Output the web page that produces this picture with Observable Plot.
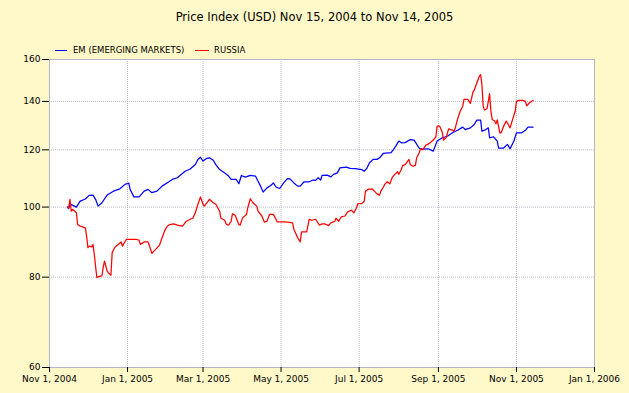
<!DOCTYPE html>
<html>
<head>
<meta charset="utf-8">
<script src="https://cdn.jsdelivr.net/npm/d3@7"></script>
<script src="https://cdn.jsdelivr.net/npm/@observablehq/plot@0.6"></script>
<style>
  html, body { margin: 0; padding: 0; background: #fff8c8; }
  #wrap { width: 629px; height: 393px; position: relative; font-family: "DejaVu Sans", Verdana, sans-serif; color: #000; }
  #head { position: relative; height: 54px; }
  #title { position: absolute; left: 0; top: 9px; width: 629px; text-align: center; font-size: 11.5px; line-height: 16px; }
  .sw { position: absolute; height: 1.5px; top: 49.5px; }
  .lt { position: absolute; top: 44px; font-size: 8.5px; line-height: 12px; white-space: nowrap; }
</style>
</head>
<body>
<div id="wrap">
  <div id="head">
    <div id="title">Price Index (USD) Nov 15, 2004 to Nov 14, 2005</div>
  </div>
  <div id="chart"></div>
</div>
<script>
// ---- data ----
const seriesNames = ["EM (EMERGING MARKETS)", "RUSSIA"];
const seriesColors = ["#0000ff", "#ff0000"];

const emDates = ["2004-11-15","2004-11-16","2004-11-17","2004-11-18","2004-11-22","2004-11-25","2004-11-29","2004-12-02","2004-12-05","2004-12-07","2004-12-09","2004-12-12","2004-12-16","2004-12-21","2004-12-26","2004-12-30","2005-01-02","2005-01-03","2005-01-06","2005-01-10","2005-01-14","2005-01-17","2005-01-20","2005-01-24","2005-01-28","2005-02-02","2005-02-05","2005-02-09","2005-02-11","2005-02-15","2005-02-19","2005-02-23","2005-02-25","2005-02-27","2005-03-01","2005-03-04","2005-03-06","2005-03-09","2005-03-11","2005-03-14","2005-03-18","2005-03-21","2005-03-23","2005-03-27","2005-03-29","2005-03-31","2005-04-03","2005-04-07","2005-04-11","2005-04-13","2005-04-15","2005-04-17","2005-04-20","2005-04-23","2005-04-25","2005-04-27","2005-04-30","2005-05-03","2005-05-06","2005-05-08","2005-05-11","2005-05-14","2005-05-16","2005-05-19","2005-05-23","2005-05-26","2005-05-28","2005-05-30","2005-06-01","2005-06-02","2005-06-06","2005-06-09","2005-06-11","2005-06-14","2005-06-16","2005-06-21","2005-06-24","2005-06-28","2005-07-03","2005-07-05","2005-07-07","2005-07-09","2005-07-12","2005-07-15","2005-07-17","2005-07-20","2005-07-26","2005-07-28","2005-07-30","2005-08-01","2005-08-03","2005-08-06","2005-08-10","2005-08-13","2005-08-17","2005-08-20","2005-08-24","2005-08-28","2005-08-31","2005-09-04","2005-09-08","2005-09-12","2005-09-16","2005-09-20","2005-09-22","2005-09-26","2005-09-29","2005-10-01","2005-10-04","2005-10-05","2005-10-08","2005-10-10","2005-10-11","2005-10-14","2005-10-17","2005-10-18","2005-10-22","2005-10-25","2005-10-27","2005-10-30","2005-11-01","2005-11-05","2005-11-08","2005-11-10","2005-11-14"];
const emValues = [100.0,99.5,101.1,100.8,100.0,101.9,102.6,103.8,103.9,102.5,100.3,101.4,103.9,105.2,106.0,107.5,107.9,105.8,103.3,103.3,105.2,105.8,104.7,105.2,106.9,108.3,109.2,109.8,110.6,112.1,112.9,114.5,116.4,117.2,115.8,116.8,117.0,116.1,114.5,112.7,111.5,110.4,109.2,109.2,107.7,110.6,110.0,110.6,110.4,108.6,106.9,104.9,106.3,107.1,108.0,106.6,106.1,108.0,109.5,109.4,108.0,106.9,106.9,108.4,108.4,109.0,108.9,109.8,109.0,110.6,110.7,110.1,111.0,111.5,113.3,113.6,113.1,113.0,112.7,112.1,113.1,115.1,116.4,116.4,117.0,118.7,118.9,120.2,121.7,123.4,122.7,122.8,124.0,123.8,120.6,120.3,120.4,119.5,123.4,124.7,125.3,126.7,127.7,129.0,128.0,128.7,130.1,131.9,131.9,127.3,128.0,128.7,124.7,125.1,123.4,120.7,120.7,122.1,120.4,123.4,126.7,126.7,127.7,129.0,129.0];

const ruDates = ["2004-11-15","2004-11-16","2004-11-17","2004-11-18","2004-11-19","2004-11-22","2004-11-23","2004-11-25","2004-11-29","2004-11-30","2004-12-01","2004-12-02","2004-12-04","2004-12-05","2004-12-06","2004-12-08","2004-12-10","2004-12-12","2004-12-13","2004-12-14","2004-12-16","2004-12-17","2004-12-19","2004-12-20","2004-12-22","2004-12-23","2004-12-27","2004-12-28","2004-12-31","2005-01-08","2005-01-10","2005-01-11","2005-01-14","2005-01-17","2005-01-18","2005-01-20","2005-01-23","2005-01-26","2005-01-28","2005-01-30","2005-02-01","2005-02-03","2005-02-06","2005-02-09","2005-02-13","2005-02-16","2005-02-19","2005-02-21","2005-02-23","2005-02-25","2005-02-27","2005-03-01","2005-03-02","2005-03-05","2005-03-06","2005-03-09","2005-03-11","2005-03-14","2005-03-15","2005-03-18","2005-03-19","2005-03-21","2005-03-23","2005-03-24","2005-03-26","2005-03-29","2005-03-30","2005-04-01","2005-04-04","2005-04-05","2005-04-07","2005-04-09","2005-04-12","2005-04-13","2005-04-16","2005-04-18","2005-04-20","2005-04-22","2005-04-25","2005-04-27","2005-04-28","2005-05-03","2005-05-06","2005-05-10","2005-05-11","2005-05-14","2005-05-16","2005-05-17","2005-05-21","2005-05-23","2005-05-25","2005-05-28","2005-05-29","2005-05-31","2005-06-02","2005-06-04","2005-06-07","2005-06-09","2005-06-12","2005-06-13","2005-06-15","2005-06-17","2005-06-20","2005-06-22","2005-06-25","2005-06-27","2005-06-29","2005-06-30","2005-07-03","2005-07-05","2005-07-06","2005-07-08","2005-07-11","2005-07-13","2005-07-15","2005-07-17","2005-07-18","2005-07-20","2005-07-21","2005-07-23","2005-07-25","2005-07-27","2005-07-29","2005-07-31","2005-08-01","2005-08-03","2005-08-04","2005-08-06","2005-08-07","2005-08-09","2005-08-10","2005-08-12","2005-08-14","2005-08-15","2005-08-17","2005-08-18","2005-08-20","2005-08-22","2005-08-25","2005-08-28","2005-08-30","2005-08-31","2005-09-02","2005-09-04","2005-09-05","2005-09-07","2005-09-09","2005-09-12","2005-09-13","2005-09-14","2005-09-16","2005-09-18","2005-09-20","2005-09-21","2005-09-24","2005-09-26","2005-09-28","2005-09-29","2005-10-01","2005-10-03","2005-10-04","2005-10-05","2005-10-06","2005-10-07","2005-10-09","2005-10-10","2005-10-11","2005-10-12","2005-10-13","2005-10-15","2005-10-16","2005-10-17","2005-10-19","2005-10-20","2005-10-22","2005-10-24","2005-10-25","2005-10-27","2005-10-29","2005-10-31","2005-11-01","2005-11-03","2005-11-06","2005-11-08","2005-11-09","2005-11-11","2005-11-14"];
const ruValues = [100.0,99.7,102.5,98.7,99.3,98.2,94.6,94.1,93.6,91.2,87.9,88.3,88.1,88.8,86.0,79.9,80.2,80.3,82.6,84.2,81.6,81.1,80.5,86.5,87.9,88.3,89.5,88.3,90.2,90.2,90.0,88.8,89.5,89.5,88.6,86.3,87.4,88.6,90.7,92.7,94.1,94.6,94.8,94.4,94.1,95.6,96.2,96.5,98.2,100.9,103.3,100.9,100.3,101.9,102.5,101.4,100.9,98.7,96.5,95.9,94.8,94.4,95.6,97.9,97.5,94.6,94.4,96.7,97.7,99.8,102.7,101.4,100.3,98.7,97.2,95.3,95.6,97.7,97.7,96.2,95.4,95.4,95.3,95.1,93.2,90.7,89.5,92.4,92.4,96.2,95.9,96.2,95.6,94.4,94.8,94.8,94.3,95.1,95.6,96.5,95.6,96.9,97.2,98.5,99.0,98.2,99.8,101.1,101.1,101.9,105.2,105.8,106.0,105.2,104.3,103.9,105.2,106.6,107.5,108.4,107.7,110.0,111.0,111.9,111.0,112.7,114.2,114.5,115.1,116.4,114.5,113.9,114.2,117.0,118.9,120.4,120.1,121.7,122.5,123.8,125.1,129.4,129.4,126.9,123.8,124.7,128.3,127.8,127.3,128.3,132.4,135.7,137.9,140.9,140.9,139.1,144.2,145.1,148.5,151.7,152.5,147.7,137.9,136.2,136.8,140.0,143.5,136.0,132.2,131.5,130.4,132.0,126.7,126.7,129.4,131.5,130.7,128.7,132.2,135.7,140.0,140.5,140.5,140.0,138.0,139.3,140.5];

const xTickDates = ["2004-11-01","2005-01-01","2005-03-01","2005-05-01","2005-07-01","2005-09-01","2005-11-01","2006-01-01"];
const yTicks = [60, 80, 100, 120, 140, 160];

// ---- build ----
const parse = d3.utcParse("%Y-%m-%d");
const rows = [
  ...emDates.map((d, i) => ({date: parse(d), value: emValues[i], series: seriesNames[0]})),
  ...ruDates.map((d, i) => ({date: parse(d), value: ruValues[i], series: seriesNames[1]}))
];
const xTicks = xTickDates.map(parse);
const fmt = d3.utcFormat("%b %-d, %Y");

const chart = Plot.plot({
  width: 629,
  height: 339,
  marginTop: 5,
  marginBottom: 26,
  marginLeft: 49,
  marginRight: 35,
  style: {background: "transparent", fontFamily: "DejaVu Sans, Verdana, sans-serif", fontSize: "9px", color: "#000", overflow: "visible"},
  x: {type: "utc", domain: [xTicks[0], xTicks[xTicks.length - 1]]},
  y: {type: "log", domain: [yTicks[0], yTicks[yTicks.length - 1]]},
  color: {domain: seriesNames, range: seriesColors},
  marks: [
    Plot.frame({fill: "white", stroke: null}),
    Plot.gridX(xTicks, {stroke: "#b8b8c8", strokeOpacity: 1, strokeDasharray: "1,1"}),
    Plot.gridY(yTicks, {stroke: "#b8b8c8", strokeOpacity: 1, strokeDasharray: "1,1"}),
    Plot.frame({stroke: "#b4b4c4"}),
    Plot.axisY(yTicks, {tickSize: 7, tickPadding: 2, tickFormat: d => String(d), label: null, fontSize: 9, stroke: "#000"}),
    Plot.axisX(xTicks, {tickSize: 5, tickPadding: 3, tickFormat: fmt, label: null, fontSize: 9, stroke: "#000"}),
    Plot.line(rows, {x: "date", y: "value", z: "series", stroke: "series", strokeWidth: 1.25, curve: "linear"})
  ]
});
document.getElementById("chart").appendChild(chart);

// legend (HTML, above the chart)
const head = document.getElementById("head");
const legendPos = [{sw: 55, swW: 12, tx: 73}, {sw: 195, swW: 14, tx: 214}];
seriesNames.forEach((name, i) => {
  const s = document.createElement("div");
  s.className = "sw";
  s.style.left = legendPos[i].sw + "px";
  s.style.width = legendPos[i].swW + "px";
  s.style.background = seriesColors[i];
  head.appendChild(s);
  const t = document.createElement("div");
  t.className = "lt";
  t.style.left = legendPos[i].tx + "px";
  t.textContent = name;
  head.appendChild(t);
});
</script>
</body>
</html>
